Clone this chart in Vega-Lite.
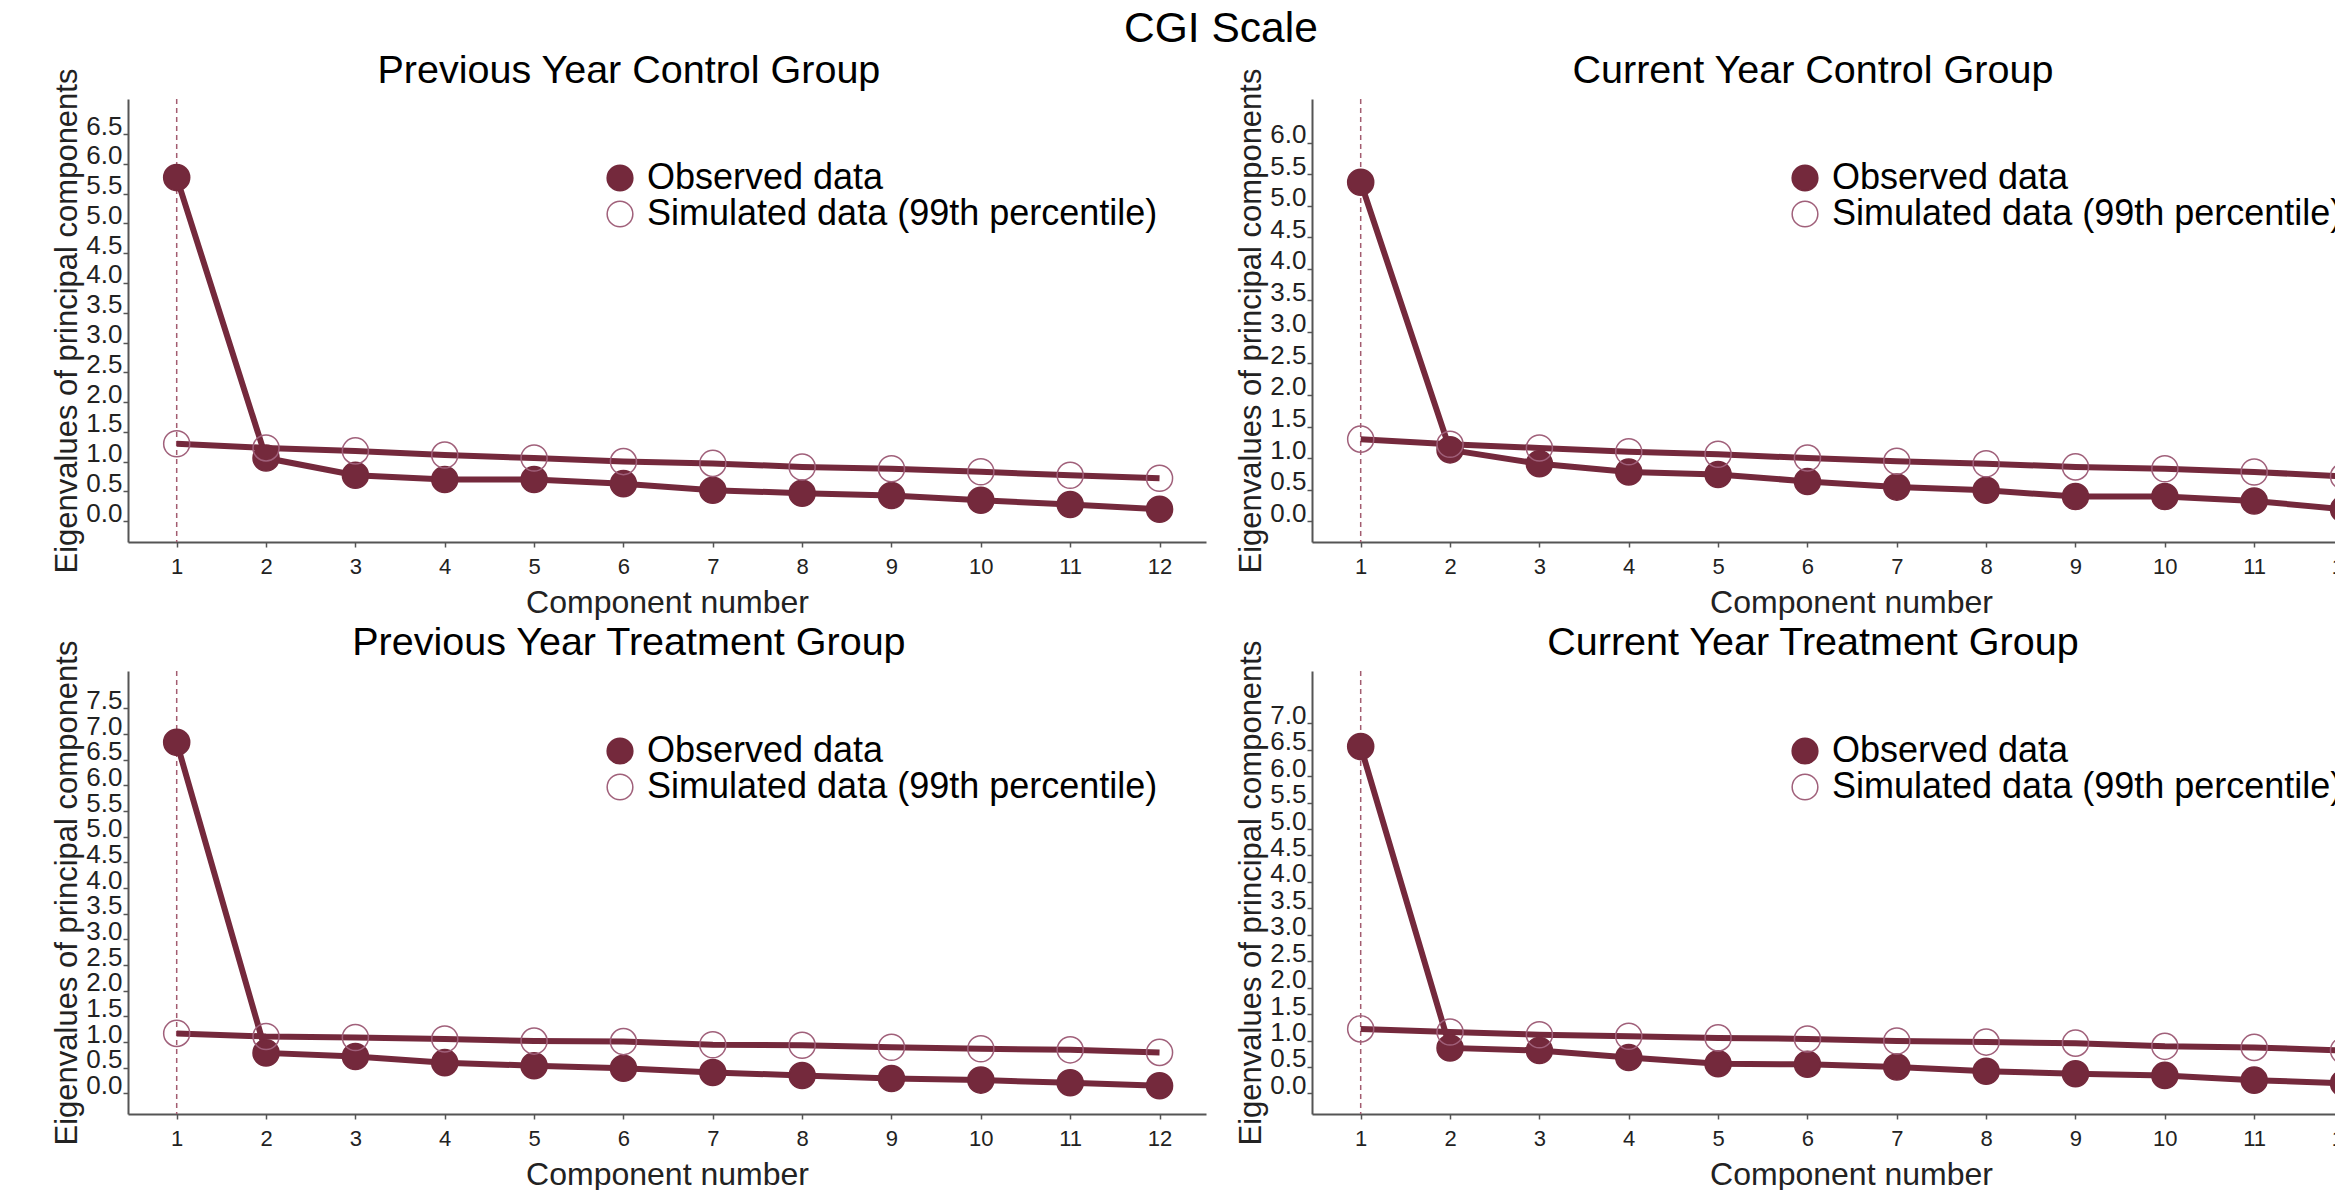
{
  "$schema": "https://vega.github.io/schema/vega-lite/v6.json",
  "background": "white",
  "padding": {"left": 51, "top": 8, "right": -55, "bottom": 0},
  "title": {"text": "CGI Scale", "fontSize": 42.5, "font": "Liberation Sans", "fontWeight": "normal", "color": "#000000", "anchor": "middle", "offset": 0},
  "datasets": {
    "scree": [
      {"panel": "PYC", "comp": 1, "series": "Observed data", "value": 5.77},
      {"panel": "PYC", "comp": 2, "series": "Observed data", "value": 1.06},
      {"panel": "PYC", "comp": 3, "series": "Observed data", "value": 0.77},
      {"panel": "PYC", "comp": 4, "series": "Observed data", "value": 0.70},
      {"panel": "PYC", "comp": 5, "series": "Observed data", "value": 0.70},
      {"panel": "PYC", "comp": 6, "series": "Observed data", "value": 0.63},
      {"panel": "PYC", "comp": 7, "series": "Observed data", "value": 0.52},
      {"panel": "PYC", "comp": 8, "series": "Observed data", "value": 0.47},
      {"panel": "PYC", "comp": 9, "series": "Observed data", "value": 0.43},
      {"panel": "PYC", "comp": 10, "series": "Observed data", "value": 0.35},
      {"panel": "PYC", "comp": 11, "series": "Observed data", "value": 0.28},
      {"panel": "PYC", "comp": 12, "series": "Observed data", "value": 0.20},
      {"panel": "PYC", "comp": 1, "series": "Simulated data (99th percentile)", "value": 1.30},
      {"panel": "PYC", "comp": 2, "series": "Simulated data (99th percentile)", "value": 1.23},
      {"panel": "PYC", "comp": 3, "series": "Simulated data (99th percentile)", "value": 1.18},
      {"panel": "PYC", "comp": 4, "series": "Simulated data (99th percentile)", "value": 1.11},
      {"panel": "PYC", "comp": 5, "series": "Simulated data (99th percentile)", "value": 1.06},
      {"panel": "PYC", "comp": 6, "series": "Simulated data (99th percentile)", "value": 1.00},
      {"panel": "PYC", "comp": 7, "series": "Simulated data (99th percentile)", "value": 0.97},
      {"panel": "PYC", "comp": 8, "series": "Simulated data (99th percentile)", "value": 0.91},
      {"panel": "PYC", "comp": 9, "series": "Simulated data (99th percentile)", "value": 0.88},
      {"panel": "PYC", "comp": 10, "series": "Simulated data (99th percentile)", "value": 0.83},
      {"panel": "PYC", "comp": 11, "series": "Simulated data (99th percentile)", "value": 0.77},
      {"panel": "PYC", "comp": 12, "series": "Simulated data (99th percentile)", "value": 0.72},

      {"panel": "CYC", "comp": 1, "series": "Observed data", "value": 5.37},
      {"panel": "CYC", "comp": 2, "series": "Observed data", "value": 1.13},
      {"panel": "CYC", "comp": 3, "series": "Observed data", "value": 0.91},
      {"panel": "CYC", "comp": 4, "series": "Observed data", "value": 0.78},
      {"panel": "CYC", "comp": 5, "series": "Observed data", "value": 0.74},
      {"panel": "CYC", "comp": 6, "series": "Observed data", "value": 0.63},
      {"panel": "CYC", "comp": 7, "series": "Observed data", "value": 0.54},
      {"panel": "CYC", "comp": 8, "series": "Observed data", "value": 0.49},
      {"panel": "CYC", "comp": 9, "series": "Observed data", "value": 0.39},
      {"panel": "CYC", "comp": 10, "series": "Observed data", "value": 0.39},
      {"panel": "CYC", "comp": 11, "series": "Observed data", "value": 0.32},
      {"panel": "CYC", "comp": 12, "series": "Observed data", "value": 0.19},
      {"panel": "CYC", "comp": 1, "series": "Simulated data (99th percentile)", "value": 1.30},
      {"panel": "CYC", "comp": 2, "series": "Simulated data (99th percentile)", "value": 1.22},
      {"panel": "CYC", "comp": 3, "series": "Simulated data (99th percentile)", "value": 1.16},
      {"panel": "CYC", "comp": 4, "series": "Simulated data (99th percentile)", "value": 1.10},
      {"panel": "CYC", "comp": 5, "series": "Simulated data (99th percentile)", "value": 1.06},
      {"panel": "CYC", "comp": 6, "series": "Simulated data (99th percentile)", "value": 1.00},
      {"panel": "CYC", "comp": 7, "series": "Simulated data (99th percentile)", "value": 0.95},
      {"panel": "CYC", "comp": 8, "series": "Simulated data (99th percentile)", "value": 0.91},
      {"panel": "CYC", "comp": 9, "series": "Simulated data (99th percentile)", "value": 0.86},
      {"panel": "CYC", "comp": 10, "series": "Simulated data (99th percentile)", "value": 0.83},
      {"panel": "CYC", "comp": 11, "series": "Simulated data (99th percentile)", "value": 0.78},
      {"panel": "CYC", "comp": 12, "series": "Simulated data (99th percentile)", "value": 0.71},

      {"panel": "PYT", "comp": 1, "series": "Observed data", "value": 6.84},
      {"panel": "PYT", "comp": 2, "series": "Observed data", "value": 0.79},
      {"panel": "PYT", "comp": 3, "series": "Observed data", "value": 0.72},
      {"panel": "PYT", "comp": 4, "series": "Observed data", "value": 0.60},
      {"panel": "PYT", "comp": 5, "series": "Observed data", "value": 0.54},
      {"panel": "PYT", "comp": 6, "series": "Observed data", "value": 0.49},
      {"panel": "PYT", "comp": 7, "series": "Observed data", "value": 0.41},
      {"panel": "PYT", "comp": 8, "series": "Observed data", "value": 0.35},
      {"panel": "PYT", "comp": 9, "series": "Observed data", "value": 0.29},
      {"panel": "PYT", "comp": 10, "series": "Observed data", "value": 0.26},
      {"panel": "PYT", "comp": 11, "series": "Observed data", "value": 0.21},
      {"panel": "PYT", "comp": 12, "series": "Observed data", "value": 0.15},
      {"panel": "PYT", "comp": 1, "series": "Simulated data (99th percentile)", "value": 1.17},
      {"panel": "PYT", "comp": 2, "series": "Simulated data (99th percentile)", "value": 1.11},
      {"panel": "PYT", "comp": 3, "series": "Simulated data (99th percentile)", "value": 1.09},
      {"panel": "PYT", "comp": 4, "series": "Simulated data (99th percentile)", "value": 1.06},
      {"panel": "PYT", "comp": 5, "series": "Simulated data (99th percentile)", "value": 1.02},
      {"panel": "PYT", "comp": 6, "series": "Simulated data (99th percentile)", "value": 1.01},
      {"panel": "PYT", "comp": 7, "series": "Simulated data (99th percentile)", "value": 0.95},
      {"panel": "PYT", "comp": 8, "series": "Simulated data (99th percentile)", "value": 0.94},
      {"panel": "PYT", "comp": 9, "series": "Simulated data (99th percentile)", "value": 0.90},
      {"panel": "PYT", "comp": 10, "series": "Simulated data (99th percentile)", "value": 0.87},
      {"panel": "PYT", "comp": 11, "series": "Simulated data (99th percentile)", "value": 0.85},
      {"panel": "PYT", "comp": 12, "series": "Simulated data (99th percentile)", "value": 0.80},

      {"panel": "CYT", "comp": 1, "series": "Observed data", "value": 6.56},
      {"panel": "CYT", "comp": 2, "series": "Observed data", "value": 0.86},
      {"panel": "CYT", "comp": 3, "series": "Observed data", "value": 0.81},
      {"panel": "CYT", "comp": 4, "series": "Observed data", "value": 0.68},
      {"panel": "CYT", "comp": 5, "series": "Observed data", "value": 0.56},
      {"panel": "CYT", "comp": 6, "series": "Observed data", "value": 0.55},
      {"panel": "CYT", "comp": 7, "series": "Observed data", "value": 0.50},
      {"panel": "CYT", "comp": 8, "series": "Observed data", "value": 0.42},
      {"panel": "CYT", "comp": 9, "series": "Observed data", "value": 0.37},
      {"panel": "CYT", "comp": 10, "series": "Observed data", "value": 0.34},
      {"panel": "CYT", "comp": 11, "series": "Observed data", "value": 0.25},
      {"panel": "CYT", "comp": 12, "series": "Observed data", "value": 0.19},
      {"panel": "CYT", "comp": 1, "series": "Simulated data (99th percentile)", "value": 1.22},
      {"panel": "CYT", "comp": 2, "series": "Simulated data (99th percentile)", "value": 1.16},
      {"panel": "CYT", "comp": 3, "series": "Simulated data (99th percentile)", "value": 1.11},
      {"panel": "CYT", "comp": 4, "series": "Simulated data (99th percentile)", "value": 1.08},
      {"panel": "CYT", "comp": 5, "series": "Simulated data (99th percentile)", "value": 1.05},
      {"panel": "CYT", "comp": 6, "series": "Simulated data (99th percentile)", "value": 1.03},
      {"panel": "CYT", "comp": 7, "series": "Simulated data (99th percentile)", "value": 0.99},
      {"panel": "CYT", "comp": 8, "series": "Simulated data (99th percentile)", "value": 0.97},
      {"panel": "CYT", "comp": 9, "series": "Simulated data (99th percentile)", "value": 0.95},
      {"panel": "CYT", "comp": 10, "series": "Simulated data (99th percentile)", "value": 0.89},
      {"panel": "CYT", "comp": 11, "series": "Simulated data (99th percentile)", "value": 0.87},
      {"panel": "CYT", "comp": 12, "series": "Simulated data (99th percentile)", "value": 0.81}
    ]
  },
  "config": {
    "font": "Liberation Sans",
    "view": {"stroke": null},
    "title": {"fontSize": 39.5, "fontWeight": "normal", "color": "#000000", "anchor": "middle", "frame": "bounds", "offset": -23, "font": "Liberation Sans"},
    "axis": {"grid": false, "domainColor": "#555555", "domainWidth": 2, "tickColor": "#555555", "tickWidth": 1.5, "labelColor": "#222222", "titleColor": "#222222", "titleFontWeight": "normal", "labelFont": "Liberation Sans", "titleFont": "Liberation Sans"},
    "axisX": {"labelFontSize": 22, "tickSize": 5, "labelPadding": 9, "titleFontSize": 32, "titlePadding": 10, "format": "d"},
    "axisY": {"labelFontSize": 26, "tickSize": 5, "labelPadding": 1, "titleFontSize": 31, "titlePadding": 2, "labelBaseline": "alphabetic", "labelOverlap": false},
    "legend": {"labelFontSize": 36, "labelFont": "Liberation Sans", "labelColor": "#000000", "labelLimit": 0, "padding": 0, "rowPadding": 0, "labelOffset": 9, "symbolSize": 660, "symbolStrokeWidth": 1.5, "symbolType": "circle", "symbolOpacity": 1}
  },
  "columns": 2,
  "spacing": {"row": 129, "column": 106},
  "bounds": "flush",
  "resolve": {"scale": {"x": "independent", "y": "independent", "fill": "independent", "stroke": "independent"}, "legend": {"fill": "independent", "stroke": "independent"}},
  "concat": [
    {
      "width": 1078, "height": 443,
      "title": "Previous Year Control Group",
      "data": {"name": "scree"},
      "transform": [{"filter": "datum.panel === 'PYC'"}],
      "layer": [
        {"transform": [{"filter": "datum.comp === 1 && datum.series === 'Observed data'"}],
         "mark": {"type": "rule", "color": "#a35c70", "strokeDash": [5, 4], "strokeWidth": 1.5},
         "encoding": {"x": {"field": "comp", "type": "quantitative", "scale": {"domain": [0.455, 12.52], "nice": false, "zero": false}, "axis": {"values": [1,2,3,4,5,6,7,8,9,10,11,12], "format": "d", "title": "Component number"}}}},
        {"mark": {"type": "line", "color": "#74293c", "strokeWidth": 6},
         "encoding": {
           "x": {"field": "comp", "type": "quantitative", "scale": {"domain": [0.455, 12.52], "nice": false, "zero": false}, "axis": {"values": [1,2,3,4,5,6,7,8,9,10,11,12], "format": "d", "title": "Component number"}},
           "y": {"field": "value", "type": "quantitative", "scale": {"domain": [-0.35, 7.09], "nice": false, "zero": false}, "axis": {"values": [0,0.5,1,1.5,2,2.5,3,3.5,4,4.5,5,5.5,6,6.5], "format": ".1f", "labelOverlap": false, "title": "Eigenvalues of principal components"}},
           "detail": {"field": "series"}}},
        {"mark": {"type": "point", "shape": "circle", "size": 680, "opacity": 1, "strokeWidth": 1.5},
         "encoding": {
           "x": {"field": "comp", "type": "quantitative"},
           "y": {"field": "value", "type": "quantitative", "axis": {"values": [0,0.5,1,1.5,2,2.5,3,3.5,4,4.5,5,5.5,6,6.5], "format": ".1f", "labelOverlap": false, "title": "Eigenvalues of principal components"}},
           "fill": {"field": "series", "type": "nominal", "scale": {"domain": ["Observed data", "Simulated data (99th percentile)"], "range": ["#74293c", "rgba(255,255,255,0)"]}, "legend": {"orient": "none", "legendX": 474, "legendY": 61, "title": null}},
           "stroke": {"field": "series", "type": "nominal", "scale": {"domain": ["Observed data", "Simulated data (99th percentile)"], "range": ["#74293c", "#a0607a"]}, "legend": {"orient": "none", "legendX": 474, "legendY": 61, "title": null}}}}
      ]
    },
    {
      "width": 1078, "height": 443,
      "title": "Current Year Control Group",
      "data": {"name": "scree"},
      "transform": [{"filter": "datum.panel === 'CYC'"}],
      "layer": [
        {"transform": [{"filter": "datum.comp === 1 && datum.series === 'Observed data'"}],
         "mark": {"type": "rule", "color": "#a35c70", "strokeDash": [5, 4], "strokeWidth": 1.5},
         "encoding": {"x": {"field": "comp", "type": "quantitative", "scale": {"domain": [0.455, 12.52], "nice": false, "zero": false}, "axis": {"values": [1,2,3,4,5,6,7,8,9,10,11,12], "format": "d", "title": "Component number"}}}},
        {"mark": {"type": "line", "color": "#74293c", "strokeWidth": 6},
         "encoding": {
           "x": {"field": "comp", "type": "quantitative", "scale": {"domain": [0.455, 12.52], "nice": false, "zero": false}, "axis": {"values": [1,2,3,4,5,6,7,8,9,10,11,12], "format": "d", "title": "Component number"}},
           "y": {"field": "value", "type": "quantitative", "scale": {"domain": [-0.33, 6.69], "nice": false, "zero": false}, "axis": {"values": [0,0.5,1,1.5,2,2.5,3,3.5,4,4.5,5,5.5,6], "format": ".1f", "labelOverlap": false, "title": "Eigenvalues of principal components"}},
           "detail": {"field": "series"}}},
        {"mark": {"type": "point", "shape": "circle", "size": 680, "opacity": 1, "strokeWidth": 1.5},
         "encoding": {
           "x": {"field": "comp", "type": "quantitative"},
           "y": {"field": "value", "type": "quantitative", "axis": {"values": [0,0.5,1,1.5,2,2.5,3,3.5,4,4.5,5,5.5,6], "format": ".1f", "labelOverlap": false, "title": "Eigenvalues of principal components"}},
           "fill": {"field": "series", "type": "nominal", "scale": {"domain": ["Observed data", "Simulated data (99th percentile)"], "range": ["#74293c", "rgba(255,255,255,0)"]}, "legend": {"orient": "none", "legendX": 475, "legendY": 61, "title": null}},
           "stroke": {"field": "series", "type": "nominal", "scale": {"domain": ["Observed data", "Simulated data (99th percentile)"], "range": ["#74293c", "#a0607a"]}, "legend": {"orient": "none", "legendX": 475, "legendY": 61, "title": null}}}}
      ]
    },
    {
      "width": 1078, "height": 443,
      "title": "Previous Year Treatment Group",
      "data": {"name": "scree"},
      "transform": [{"filter": "datum.panel === 'PYT'"}],
      "layer": [
        {"transform": [{"filter": "datum.comp === 1 && datum.series === 'Observed data'"}],
         "mark": {"type": "rule", "color": "#a35c70", "strokeDash": [5, 4], "strokeWidth": 1.5},
         "encoding": {"x": {"field": "comp", "type": "quantitative", "scale": {"domain": [0.455, 12.52], "nice": false, "zero": false}, "axis": {"values": [1,2,3,4,5,6,7,8,9,10,11,12], "format": "d", "title": "Component number"}}}},
        {"mark": {"type": "line", "color": "#74293c", "strokeWidth": 6},
         "encoding": {
           "x": {"field": "comp", "type": "quantitative", "scale": {"domain": [0.455, 12.52], "nice": false, "zero": false}, "axis": {"values": [1,2,3,4,5,6,7,8,9,10,11,12], "format": "d", "title": "Component number"}},
           "y": {"field": "value", "type": "quantitative", "scale": {"domain": [-0.40, 8.23], "nice": false, "zero": false}, "axis": {"values": [0,0.5,1,1.5,2,2.5,3,3.5,4,4.5,5,5.5,6,6.5,7,7.5], "format": ".1f", "labelOverlap": false, "title": "Eigenvalues of principal components"}},
           "detail": {"field": "series"}}},
        {"mark": {"type": "point", "shape": "circle", "size": 680, "opacity": 1, "strokeWidth": 1.5},
         "encoding": {
           "x": {"field": "comp", "type": "quantitative"},
           "y": {"field": "value", "type": "quantitative", "axis": {"values": [0,0.5,1,1.5,2,2.5,3,3.5,4,4.5,5,5.5,6,6.5,7,7.5], "format": ".1f", "labelOverlap": false, "title": "Eigenvalues of principal components"}},
           "fill": {"field": "series", "type": "nominal", "scale": {"domain": ["Observed data", "Simulated data (99th percentile)"], "range": ["#74293c", "rgba(255,255,255,0)"]}, "legend": {"orient": "none", "legendX": 474, "legendY": 62, "title": null}},
           "stroke": {"field": "series", "type": "nominal", "scale": {"domain": ["Observed data", "Simulated data (99th percentile)"], "range": ["#74293c", "#a0607a"]}, "legend": {"orient": "none", "legendX": 474, "legendY": 62, "title": null}}}}
      ]
    },
    {
      "width": 1078, "height": 443,
      "title": "Current Year Treatment Group",
      "data": {"name": "scree"},
      "transform": [{"filter": "datum.panel === 'CYT'"}],
      "layer": [
        {"transform": [{"filter": "datum.comp === 1 && datum.series === 'Observed data'"}],
         "mark": {"type": "rule", "color": "#a35c70", "strokeDash": [5, 4], "strokeWidth": 1.5},
         "encoding": {"x": {"field": "comp", "type": "quantitative", "scale": {"domain": [0.455, 12.52], "nice": false, "zero": false}, "axis": {"values": [1,2,3,4,5,6,7,8,9,10,11,12], "format": "d", "title": "Component number"}}}},
        {"mark": {"type": "line", "color": "#74293c", "strokeWidth": 6},
         "encoding": {
           "x": {"field": "comp", "type": "quantitative", "scale": {"domain": [0.455, 12.52], "nice": false, "zero": false}, "axis": {"values": [1,2,3,4,5,6,7,8,9,10,11,12], "format": "d", "title": "Component number"}},
           "y": {"field": "value", "type": "quantitative", "scale": {"domain": [-0.39, 7.99], "nice": false, "zero": false}, "axis": {"values": [0,0.5,1,1.5,2,2.5,3,3.5,4,4.5,5,5.5,6,6.5,7], "format": ".1f", "labelOverlap": false, "title": "Eigenvalues of principal components"}},
           "detail": {"field": "series"}}},
        {"mark": {"type": "point", "shape": "circle", "size": 680, "opacity": 1, "strokeWidth": 1.5},
         "encoding": {
           "x": {"field": "comp", "type": "quantitative"},
           "y": {"field": "value", "type": "quantitative", "axis": {"values": [0,0.5,1,1.5,2,2.5,3,3.5,4,4.5,5,5.5,6,6.5,7], "format": ".1f", "labelOverlap": false, "title": "Eigenvalues of principal components"}},
           "fill": {"field": "series", "type": "nominal", "scale": {"domain": ["Observed data", "Simulated data (99th percentile)"], "range": ["#74293c", "rgba(255,255,255,0)"]}, "legend": {"orient": "none", "legendX": 475, "legendY": 62, "title": null}},
           "stroke": {"field": "series", "type": "nominal", "scale": {"domain": ["Observed data", "Simulated data (99th percentile)"], "range": ["#74293c", "#a0607a"]}, "legend": {"orient": "none", "legendX": 475, "legendY": 62, "title": null}}}}
      ]
    }
  ]
}
